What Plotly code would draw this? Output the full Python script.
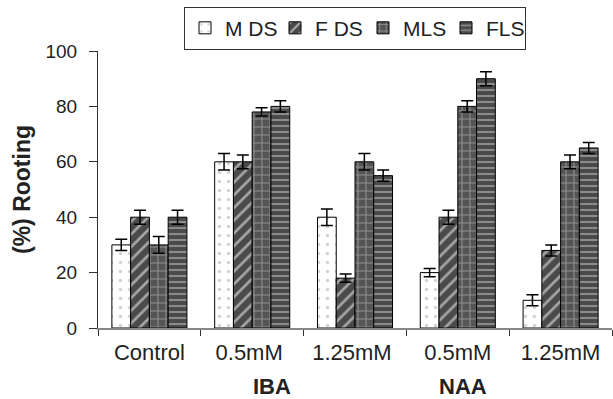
import plotly.graph_objects as go

categories = ["Control", "0.5mM ", "1.25mM ", "0.5mM", "1.25mM"]
series_names = ["M DS", "F DS", "MLS", "FLS"]
m_ds = [30, 60, 40, 20, 10]
f_ds = [40, 60, 18, 40, 28]
mls = [30, 78, 60, 80, 60]
fls = [40, 80, 55, 90, 65]
m_ds_err = [2, 3, 3, 1.5, 2]
f_ds_err = [2.5, 2.5, 1.5, 2.5, 2]
mls_err = [3, 1.5, 3, 2, 2.5]
fls_err = [2.5, 2, 2, 2.5, 2]
group_labels = ["IBA", "NAA"]

patterns = [
    dict(shape=".", bgcolor="white", fgcolor="#a8a8a8", size=9, solidity=0.12),
    dict(shape="/", bgcolor="#4a4a4a", fgcolor="white", size=9, solidity=0.3),
    dict(shape="+", bgcolor="#555555", fgcolor="#cccccc", size=8, solidity=0.25),
    dict(shape="-", bgcolor="#4a4a4a", fgcolor="#cccccc", size=6, solidity=0.35),
]
legend_widths = [45, 43, 38, 34]

fig = go.Figure()
for name, vals, errs, pat, lw in zip(series_names, [m_ds, f_ds, mls, fls],
                                     [m_ds_err, f_ds_err, mls_err, fls_err], patterns,
                                     legend_widths):
    fig.add_trace(go.Bar(
        name=name, x=categories, y=vals, legendwidth=lw,
        marker=dict(color=pat["bgcolor"], pattern=pat, line=dict(color="black", width=1)),
        error_y=dict(type="data", array=errs, color="black", thickness=1.5, width=6),
    ))

font = "Liberation Sans, Arial, sans-serif"
fig.update_layout(
    width=613, height=399,
    margin=dict(l=98, r=1, t=51, b=71, autoexpand=False),
    paper_bgcolor="white", plot_bgcolor="white",
    barmode="group", bargap=0.27, bargroupgap=0,
    font=dict(family=font, size=20, color="#222"),
    showlegend=True,
    legend=dict(orientation="h", x=0.5, xanchor="center", y=1.16, yanchor="top",
                bordercolor="#333", borderwidth=1, font=dict(size=21),
                itemwidth=30, traceorder="normal", tracegroupgap=0),
    xaxis=dict(type="category", showline=True, linecolor="#888", linewidth=1.5,
               ticks="outside", tickson="boundaries", ticklen=6, tickcolor="#333",
               tickfont=dict(size=22), showgrid=False, automargin=False,
               ticklabelstandoff=4),
    yaxis=dict(range=[0, 100], dtick=20, showline=True, linecolor="#333", linewidth=1,
               ticks="outside", ticklen=8, tickcolor="#333", showgrid=False,
               zeroline=False, tickfont=dict(size=19), automargin=False,
               ticklabelstandoff=8,
               title=dict(text="<b>(%) Rooting</b>", font=dict(size=23), standoff=8)),
)
for lbl, xp in zip(group_labels, [0.3385, 0.71]):
    fig.add_annotation(text="<b>%s</b>" % lbl, xref="paper", yref="paper", x=xp, y=-0.21,
                       xanchor="center", yanchor="middle", showarrow=False,
                       font=dict(size=22, color="#222"))

fig.write_html("out.html", post_script="document.body.style.margin='0';",
               config={"displayModeBar": False})
